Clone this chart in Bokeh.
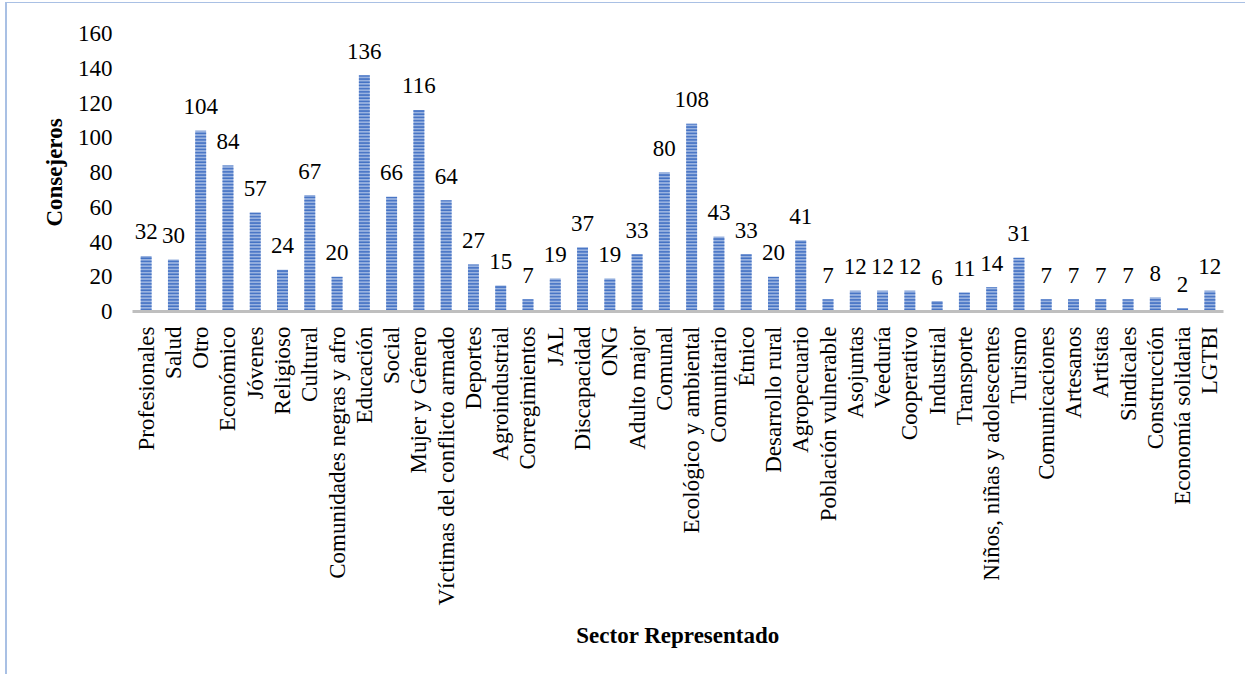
import math
from bokeh.plotting import figure
from bokeh.models import ColumnDataSource, Range1d, FixedTicker
from bokeh.embed import file_html
from bokeh.resources import INLINE
from bokeh.core.properties import value

categories = ["Profesionales", "Salud", "Otro", "Económico", "Jóvenes", "Religioso", "Cultural",
              "Comunidades negras y afro", "Educación", "Social", "Mujer y Género",
              "Víctimas del conflicto armado", "Deportes", "Agroindustrial", "Corregimientos", "JAL",
              "Discapacidad", "ONG", "Adulto major", "Comunal", "Ecológico y ambiental", "Comunitario",
              "Étnico", "Desarrollo rural", "Agropecuario", "Población vulnerable", "Asojuntas",
              "Veeduría", "Cooperativo", "Industrial", "Transporte", "Niños, niñas y adolescentes",
              "Turismo", "Comunicaciones", "Artesanos", "Artistas", "Sindicales", "Construcción",
              "Economía solidaria", "LGTBI"]
values = [32, 30, 104, 84, 57, 24, 67, 20, 136, 66, 116, 64, 27, 15, 7, 19, 37, 19, 33, 80, 108, 43,
          33, 20, 41, 7, 12, 12, 12, 6, 11, 14, 31, 7, 7, 7, 7, 8, 2, 12]
y_ticks = [0, 20, 40, 60, 80, 100, 120, 140, 160]

FONT = "Liberation Serif"

src = ColumnDataSource(dict(cat=categories, val=values, lab=[str(v) for v in values]))

p = figure(x_range=categories, y_range=Range1d(0, 160), width=1240, height=672,
           output_backend="svg", toolbar_location=None,
           min_border_left=125, min_border_right=24, min_border_top=30, min_border_bottom=364)
p.styles = {"margin-left": "5px", "margin-top": "2px",
            "border-left": "2px solid #A9C0E4", "border-top": "1px solid #A9C0E4"}

p.vbar(x="cat", top="val", width=0.4, source=src, fill_color="#9AB3E0", line_color=None,
       hatch_pattern="horizontal_line", hatch_color="#4472C4", hatch_scale=3.2, hatch_weight=1.8)

p.text(x="cat", y="val", text="lab", source=src, text_align="center", text_baseline="alphabetic",
       y_offset=-24, text_font=value(FONT), text_font_size="23px", text_color="#000000")

p.outline_line_color = None
p.xgrid.grid_line_color = None
p.ygrid.grid_line_color = None
p.x_range.range_padding = 0

p.yaxis.ticker = FixedTicker(ticks=y_ticks)
p.yaxis.axis_line_color = None
p.yaxis.major_tick_line_color = None
p.yaxis.minor_tick_line_color = None
p.yaxis.major_label_standoff = 14
p.yaxis.major_label_text_font = FONT
p.yaxis.major_label_text_font_size = "23px"
p.yaxis.major_label_text_color = "#000000"
p.yaxis.axis_label = "Consejeros"
p.yaxis.axis_label_text_font = FONT
p.yaxis.axis_label_text_font_style = "bold"
p.yaxis.axis_label_text_font_size = "23px"
p.yaxis.axis_label_text_color = "#000000"
p.yaxis.axis_label_standoff = 8

p.xaxis.axis_line_color = "#BFBFBF"
p.xaxis.axis_line_width = 3
p.xaxis.major_tick_line_color = None
p.xaxis.minor_tick_line_color = None
p.xaxis.major_label_orientation = math.pi / 2
p.xaxis.major_label_standoff = 9
p.xaxis.major_label_text_font = FONT
p.xaxis.major_label_text_font_size = "23px"
p.xaxis.major_label_text_color = "#000000"
p.xaxis.axis_label = "Sector Representado"
p.xaxis.axis_label_text_font = FONT
p.xaxis.axis_label_text_font_style = "bold"
p.xaxis.axis_label_text_font_size = "23px"
p.xaxis.axis_label_text_color = "#000000"
p.xaxis.axis_label_standoff = 14

open("out.html", "w").write(file_html(p, INLINE))
